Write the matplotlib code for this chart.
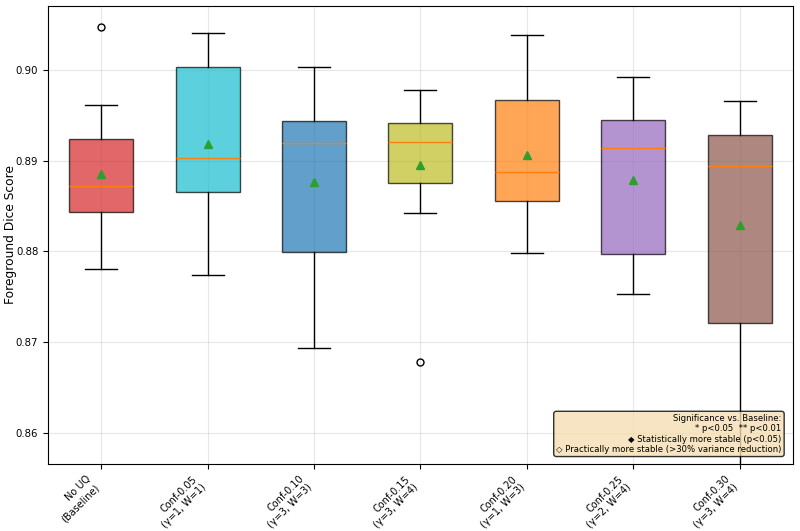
import matplotlib
matplotlib.use("Agg")
import matplotlib.pyplot as plt

labels = ["No UQ\n(Baseline)", "Conf-0.05\n(γ=1, W=1)", "Conf-0.10\n(γ=3, W=3)",
          "Conf-0.15\n(γ=3, W=4)", "Conf-0.20\n(γ=1, W=3)", "Conf-0.25\n(γ=2, W=4)",
          "Conf-0.30\n(γ=3, W=4)"]
whis_lo = [0.8781, 0.8774, 0.8694, 0.8842, 0.8798, 0.8753, 0.8520]
q1 = [0.8843, 0.8865, 0.8799, 0.8875, 0.8856, 0.8797, 0.8721]
median = [0.8872, 0.8903, 0.8919, 0.8920, 0.8887, 0.8914, 0.8894]
mean = [0.8885, 0.8918, 0.8877, 0.8895, 0.8906, 0.8879, 0.8829]
q3 = [0.8924, 0.9003, 0.8944, 0.8941, 0.8967, 0.8945, 0.8928]
whis_hi = [0.8961, 0.9041, 0.9003, 0.8978, 0.9038, 0.8992, 0.8966]
fliers = [[0.9047], [], [], [0.8678], [], [], []]
colors = ["#d62728", "#17becf", "#1f77b4", "#bcbd22", "#ff7f0e", "#9467bd", "#8c564b"]

stats = []
for i in range(len(labels)):
    stats.append(dict(label=labels[i], whislo=whis_lo[i], q1=q1[i], med=median[i],
                      mean=mean[i], q3=q3[i], whishi=whis_hi[i], fliers=fliers[i]))

fig = plt.figure(figsize=(8, 5.31), dpi=100)
ax = fig.add_axes([0.06, 0.126, 0.931, 0.863])
bp = ax.bxp(stats, positions=range(1, len(labels) + 1), widths=0.6, patch_artist=True,
            showmeans=True, showfliers=True,
            meanprops=dict(marker="^", markerfacecolor="#2ca02c", markeredgecolor="#2ca02c", markersize=5.5),
            medianprops=dict(color="#ff7f0e", linewidth=1),
            whiskerprops=dict(color="black", linewidth=1),
            capprops=dict(color="black", linewidth=1),
            flierprops=dict(marker="o", markerfacecolor="none", markeredgecolor="black", markersize=5),
            boxprops=dict(edgecolor="black", linewidth=1))
for patch, c in zip(bp["boxes"], colors):
    patch.set_facecolor(c)
    patch.set_alpha(0.7)

ax.set_ylim(0.85658, 0.90705)
ax.set_xlim(0.5, 7.5)
ax.set_yticks([0.86, 0.87, 0.88, 0.89, 0.90])
ax.set_yticklabels(["0.86", "0.87", "0.88", "0.89", "0.90"])
ax.tick_params(axis="y", labelsize=7.3)
ax.set_xticks(range(1, len(labels) + 1))
ax.set_xticklabels(labels, rotation=45, ha="right", fontsize=7)
ax.set_ylabel("Foreground Dice Score", fontsize=8.8)
ax.yaxis.set_label_coords(-0.041, 0.5)
ax.grid(True, alpha=0.3)

ax.text(0.985, 0.022,
        "Significance vs. Baseline:\n* p<0.05  ** p<0.01\n◆ Statistically more stable (p<0.05)\n◇ Practically more stable (>30% variance reduction)",
        transform=ax.transAxes, ha="right", va="bottom", fontsize=6.1, zorder=10,
        bbox=dict(boxstyle="round,pad=0.3", facecolor="wheat", alpha=0.8))

fig.savefig("out.png", dpi=100)
